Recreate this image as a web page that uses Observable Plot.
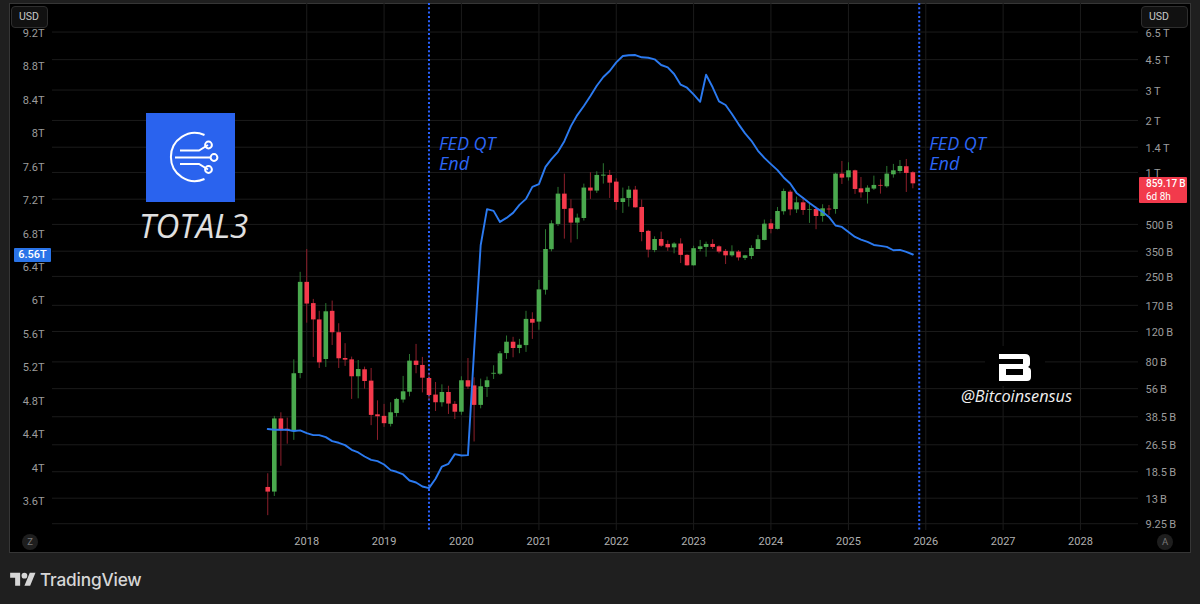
<!DOCTYPE html>
<html>
<head>
<meta charset="utf-8">
<script src="https://cdn.jsdelivr.net/npm/d3@7"></script>
<script src="https://cdn.jsdelivr.net/npm/@observablehq/plot@0.6"></script>
<style>
html,body{margin:0;padding:0;background:#1f1f1f;width:1200px;height:604px;overflow:hidden;font-family:Roboto,sans-serif}
#stage{position:relative;width:1200px;height:604px}
#panel{position:absolute;left:9px;top:3px;width:1180px;height:548px;background:#000;border:1px solid #363636}
#chart{position:absolute;left:0;top:0}
.ov{position:absolute}
.btn{background:#111;border:1px solid #2e2e2e;border-radius:4px;color:#c8c8c8;font-size:10.5px;line-height:20px;box-sizing:border-box;height:22px;padding-left:7px;font-weight:400}
.round{width:16px;height:16px;border-radius:50%;background:#1e1e1e;color:#777;font-size:9.5px;line-height:16px;text-align:center}
</style>
</head>
<body>
<div id="stage">
<div id="panel"></div>
<div id="chart"></div>

<div class="ov btn" style="left:11px;top:6px;width:37px">USD</div>
<div class="ov btn" style="left:1141px;top:6px;width:47px">USD</div>
<div class="ov" style="left:14px;top:248px;width:37px;height:14px;background:#2a74e8;border-radius:1px;color:#fff;font-size:11px;line-height:14px;text-align:center;font-weight:500">6.56T</div>
<div class="ov" style="left:1139px;top:177px;width:48px;height:26px;background:#f23a4c;border-radius:1px;color:#fff;font-size:10px;line-height:12.5px;padding:1px 0 0 7px;box-sizing:border-box;font-weight:500;white-space:nowrap">859.17&#8201;B<br><span style="font-weight:400">6d 8h</span></div>
<div class="ov round" style="left:22px;top:534px">Z</div>
<div class="ov round" style="left:1157px;top:534px">A</div>

<svg class="ov" style="left:146px;top:113px" width="89" height="89" viewBox="0 0 89 89">
  <rect width="89" height="89" fill="#2a63ee"/>
  <g fill="none" stroke="#fff" stroke-width="2">
    <path d="M58.5 22 A24 24 0 1 0 58.5 66" />
    <path d="M34 37.5 H53 L62 32"/><circle cx="62.500" cy="32" r="3.400"/>
    <path d="M29 44.500 H64"/><circle cx="68" cy="44.500" r="3.400"/>
    <path d="M34 51 H53 L62 56.500"/><circle cx="62.500" cy="56.500" r="3.400"/>
  </g>
</svg>
<div class="ov" style="left:139px;top:206px;color:#e0e0e0;font:italic 400 33px 'Open Sans',sans-serif;line-height:40px">TOTAL3</div>

<svg class="ov" style="left:985px;top:346px" width="60" height="40" viewBox="0 0 60 40">
  <rect width="60" height="40" fill="#000"/>
  <path fill="#fff" fill-rule="evenodd" d="M14 8 H40 Q45 8 45 13 V18 Q45 20 43 21 Q46 22 46 25 V31 Q46 35 42 35 H14 V18 H38 V13 H14 Z M21 23 V29 H38 V23 Z"/>
</svg>
<div class="ov" style="left:961px;top:385px;color:#f0f0f0;font:italic 400 16.300px 'Open Sans',sans-serif;line-height:22px;white-space:nowrap">@Bitcoinsensus</div>

<div class="ov" style="left:10px;top:569px;display:flex;align-items:center">
  <svg width="26" height="20" viewBox="0 0 36 28"><path fill="#d6d6d6" d="M14 22H7V11H0V4h14v18zM28 22h-8l7.500-18h8L28 22z"/><circle cx="20" cy="8" r="4" fill="#d6d6d6"/></svg>
  <span style="margin-left:4px;color:#d6d6d6;font:500 17.300px Inter,Roboto,sans-serif;letter-spacing:-0.2px">TradingView</span>
</div>
</div>

<script>
// Monthly TOTAL3 candles, billions of USD (2017-07 … 2025-11)
const opens = [15.0,14.1,37.4,32.6,31.5,68.5,
  231,174,140,82.6,157,118,83.7,82.2,65.6,72.0,61.9,39.5,
  38.7,34.8,40.2,48.1,53.4,80.8,76.3,64.1,51.4,46.4,53.2,45.4,
  40.9,62.2,58.1,44.8,56.9,67.9,67.9,89.4,104,95.6,99.4,141,
  136,208,357,500,749,616,509,541,812,780,952,961,
  879,670,707,790,627,456,353,409,383,366,385,331,
  288,358,368,383,371,349,329,346,318,326,358,404,
  504,468,592,769,607,667,605,610,556,613,610,978,
  931,1022,804,766,801,841,826,969,1013,1079,996];
const highs = [18.0,38.7,40.6,37.8,82.2,264,
  358,184,157,174,180,133,102,85.3,81.5,74.6,73.3,47.6,
  45.4,46.4,49.2,65.9,88.3,101,84.9,68.3,60.8,58.9,57.8,47.1,
  65.6,83.7,64.7,63.6,65.3,76.0,91.9,113,111,108,157,154,
  237,466,525,819,978,695,574,856,996,1009,1123,1027,
  919,812,830,830,692,462,424,451,402,392,413,334,
  374,404,395,408,376,358,376,353,331,376,432,530,
  534,627,801,787,720,713,653,630,650,644,991,1158,
  1138,1031,935,837,952,907,1083,1113,1173,1189,1009];
const lows = [10.3,13.3,19.9,26.7,28.1,63.9,
  134,84.9,73.3,74.3,99.6,73.3,75.3,48.5,48.9,55.6,34.2,28.1,
  33.4,33.6,38.3,46.2,50.2,68.3,52.9,47.9,41.3,43.8,39.7,37.1,
  39.3,55.4,27.5,42.8,49.8,63.3,66.8,82.7,84.5,89.2,90.8,108,
  122,195,347,487,411,390,408,523,698,756,856,707,
  603,579,630,621,397,320,343,368,349,338,297,287,
  287,347,323,358,338,293,323,307,309,313,358,402,
  441,465,566,561,579,564,507,466,515,564,573,852,
  891,746,710,656,787,749,811,927,982,766,804];
const closes = [14.1,37.4,31.9,31.9,68.3,231,
  173,140,79.0,156,118,83.4,81.9,65.6,72.3,61.6,39.2,38.5,
  35.1,40.6,48.5,53.7,80.8,76.3,64.4,51.1,46.4,53.2,45.6,40.9,
  62.2,57.2,44.8,57.4,62.2,68.7,89.1,104,95.6,99.9,141,134,
  209,358,504,749,611,509,544,812,780,961,965,867,
  670,704,790,624,449,355,409,374,366,385,331,288,
  362,371,383,368,346,329,347,320,329,363,408,502,
  468,594,776,607,667,602,610,556,616,607,978,927,
  1022,797,762,811,841,833,978,1022,1083,987,859.17];
// Fed balance sheet, trillions of USD (left axis)
const fedBalance = [4.455,4.447,4.447,4.447,4.431,4.439,
  4.407,4.383,4.383,4.359,4.311,4.291,4.263,4.207,4.175,4.127,4.087,4.071,
  4.031,3.964,3.944,3.912,3.840,3.816,3.768,3.748,3.860,4.007,4.039,4.155,
  4.139,4.143,5.396,6.654,7.085,7.065,6.933,6.981,7.041,7.137,7.208,7.352,
  7.384,7.592,7.684,7.771,7.899,8.079,8.211,8.319,8.438,8.562,8.666,8.738,
  8.842,8.917,8.926,8.929,8.902,8.897,8.878,8.810,8.782,8.702,8.574,8.538,
  8.459,8.370,8.693,8.543,8.375,8.331,8.223,8.103,7.992,7.903,7.783,7.699,
  7.624,7.552,7.465,7.393,7.280,7.220,7.160,7.101,7.053,6.993,6.890,6.873,
  6.813,6.753,6.722,6.693,6.657,6.646,6.634,6.594,6.598,6.574,6.543];
const gridLevels = [9.25,13,18.5,26.5,38.5,56,80,120,170,250,350,500,700,1000,1400,2000,3000,4500,6500];
// The 700 B label sits behind the price tag in the reference, so only its grid line shows.
const rightTicks = [9.25,13,18.5,26.5,38.5,56,80,120,170,250,350,500,1000,1400,2000,3000,4500,6500];
const leftTicks = [3.6,4,4.4,4.8,5.2,5.6,6,6.4,6.8,7.2,7.6,8,8.4,8.8,9.2];
const yearTicks = [2018,2019,2020,2021,2022,2023,2024,2025,2026,2027,2028];
const qtEndDates = ["2019-08-01","2025-12-01"];
const qtEndLabel = "FED QT\nEnd";

const months = d3.utcMonth.range(new Date(Date.UTC(2017,6,1)), new Date(Date.UTC(2025,11,1)));
const candles = months.map((date,i)=>({date,open:opens[i],high:highs[i],low:lows[i],close:closes[i],up:closes[i]>opens[i]}));

// Left (linear, T) and right (log, B) axes are aligned at two levels.
const leftLow = 3.6, leftHigh = 9.2, rightLow = 12.6, rightHigh = 6470;
const leftToY = t => rightLow * Math.pow(rightHigh/rightLow, (t-leftLow)/(leftHigh-leftLow));
const fedLine = months.map((date,i)=>({date,y:leftToY(fedBalance[i])}));
const rightLabel = v => v>=1000 ? `${v/1000}\u2009T` : `${v}\u2009B`;
const yearDate = y => new Date(Date.UTC(y,0,1));
const qtDates = qtEndDates.map(s=>new Date(s+"T00:00:00Z"));

const gridColor = "#1b1b1b", axisColor = "#9c9c9c", fedBlue = "#2b7af0", textBlue = "#2c66f5";
const upBody = "#4aa94e", downBody = "#f53a4c", upWick = "#2c7531", downWick = "#8c1f2b";

const plot = Plot.plot({
  width:1200, height:553,
  marginLeft:52, marginRight:62, marginTop:3, marginBottom:23,
  style:{background:"transparent",color:axisColor,fontFamily:"Roboto,sans-serif",fontSize:"11px"},
  x:{type:"utc",domain:[new Date(Date.UTC(2014,8,19)),new Date(Date.UTC(2028,9,1))]},
  y:{type:"log",domain:[8.45,9510],axis:null},
  marks:[
    Plot.ruleY(gridLevels,{stroke:gridColor,strokeWidth:1}),
    Plot.ruleX(yearTicks.map(yearDate),{stroke:gridColor,strokeWidth:1}),
    Plot.text(rightTicks,{y:d=>d,text:rightLabel,frameAnchor:"right",textAnchor:"start",dx:7,dy:1,fill:axisColor,fontSize:11}),
    Plot.text(leftTicks,{y:leftToY,text:t=>`${t}T`,frameAnchor:"left",textAnchor:"end",dx:-8,dy:1,fill:axisColor,fontSize:11}),
    Plot.axisX(yearTicks.map(yearDate),{tickSize:0,tickPadding:7,tickFormat:d=>String(d.getUTCFullYear()),label:null,fill:"#b0b0b0"}),
    Plot.ruleX(qtDates,{stroke:"#2962ff",strokeWidth:2,strokeDasharray:"2 2.3"}),
    Plot.ruleX(candles,{x:"date",y1:"low",y2:"high",stroke:d=>d.up?upWick:downWick,strokeWidth:1}),
    Plot.ruleX(candles,{x:"date",y1:"open",y2:"close",stroke:d=>d.up?upBody:downBody,strokeWidth:4.6}),
    Plot.line(fedLine,{x:"date",y:"y",stroke:fedBlue,strokeWidth:1.9}),
    Plot.text(qtDates,{x:d=>d,y:()=>1288,text:()=>qtEndLabel,textAnchor:"start",dx:10,lineHeight:1.11,fontSize:18,fontStyle:"italic",fill:textBlue,fontFamily:"'Open Sans',sans-serif"})
  ]
});
document.getElementById("chart").appendChild(plot);
</script>
</body>
</html>
